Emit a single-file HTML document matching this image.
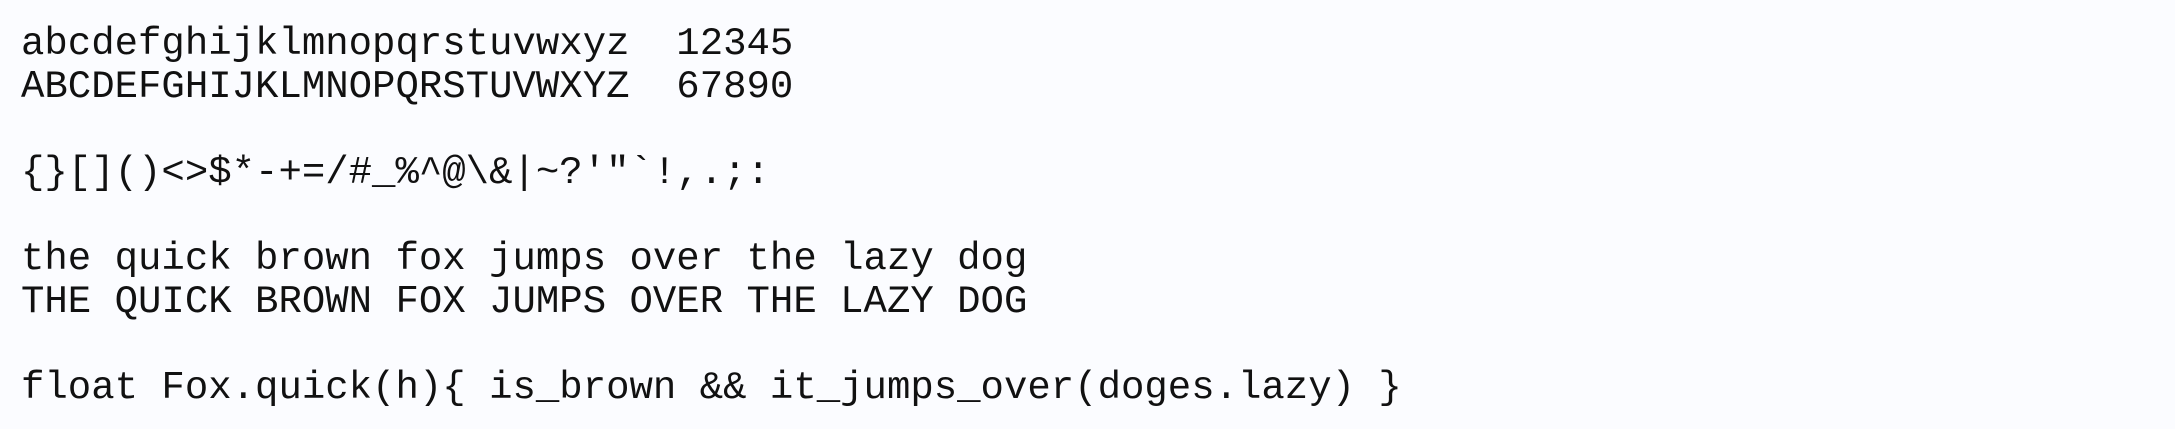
<!DOCTYPE html>
<html><head><meta charset="utf-8"><style>
html,body{margin:0;padding:0;}
body{width:2175px;height:429px;background:#fbfcff;overflow:hidden;}
pre{margin:0;padding:23px 0 0 21px;font-family:"Liberation Mono",monospace;font-size:39px;line-height:43px;color:#111;}
</style></head><body><pre>abcdefghijklmnopqrstuvwxyz  12345
ABCDEFGHIJKLMNOPQRSTUVWXYZ  67890

{}[]()&lt;&gt;$*-+=/#_%^@\&amp;|~?'"`!,.;:

the quick brown fox jumps over the lazy dog
THE QUICK BROWN FOX JUMPS OVER THE LAZY DOG

float Fox.quick(h){ is_brown &amp;&amp; it_jumps_over(doges.lazy) }</pre></body></html>
